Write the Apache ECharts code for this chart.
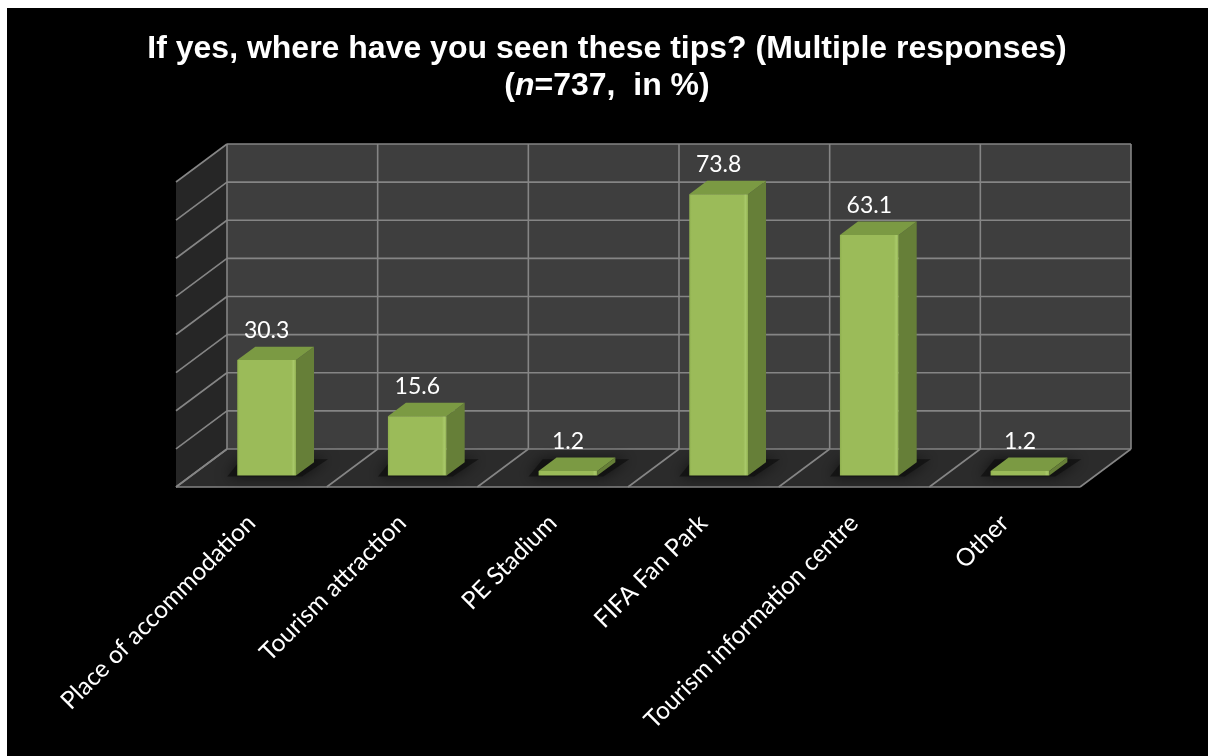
<!DOCTYPE html>
<html>
<head>
<meta charset="utf-8">
<script src="https://cdn.jsdelivr.net/npm/echarts@6/dist/echarts.min.js"></script>
<style>
html,body{margin:0;padding:0;background:#fff;}
#chart{width:1208px;height:756px;}
</style>
</head>
<body>
<div id="chart"></div>
<script>
const categories = ['Place of accommodation', 'Tourism attraction', 'PE Stadium', 'FIFA Fan Park', 'Tourism information centre', 'Other'];
const values = [30.3, 15.6, 1.2, 73.8, 63.1, 1.2];
const valueTicks = [0, 10, 20, 30, 40, 50, 60, 70, 80];

// layout / style constants (not data)
const DEPTH = [51, -38];          // front plane -> back wall offset in px
const BAR_FRONT = 0.30;           // fraction of depth where bar front face sits
const BAR_DEPTH = 0.353;          // fraction of depth occupied by bar
const BAR_WIDTH = 0.39;           // fraction of category band
const GRID_COLOR = '#858585';

const chart = echarts.init(document.getElementById('chart'), null, {renderer: 'canvas'});

function renderWalls(params, api) {
  const cs = params.coordSys;
  const gx = cs.x, gy = cs.y, gw = cs.width, gh = cs.height;
  const dx = DEPTH[0], dy = DEPTH[1];
  const children = [];
  const yb = api.coord([0, 0])[1];
  const yt = api.coord([0, valueTicks[valueTicks.length - 1]])[1];
  children.push({type: 'polygon', shape: {points: [[gx + dx, yt + dy], [gx + gw + dx, yt + dy], [gx + gw + dx, yb + dy], [gx + dx, yb + dy]]}, style: {fill: '#3e3e3e'}});
  children.push({type: 'polygon', shape: {points: [[gx, yt], [gx + dx, yt + dy], [gx + dx, yb + dy], [gx, yb]]}, style: {fill: '#262626'}});
  children.push({type: 'polygon', shape: {points: [[gx, yb], [gx + dx, yb + dy], [gx + gw + dx, yb + dy], [gx + gw, yb]]}, style: {fill: '#2b2b2b'}});
  const ls = {stroke: GRID_COLOR, lineWidth: 1.6};
  valueTicks.forEach(function (v) {
    const y = api.coord([0, v])[1];
    children.push({type: 'line', shape: {x1: gx + dx, y1: y + dy, x2: gx + gw + dx, y2: y + dy}, style: ls});
    children.push({type: 'line', shape: {x1: gx, y1: y, x2: gx + dx, y2: y + dy}, style: ls});
  });
  const band = api.size([1, 0])[0];
  for (let i = 0; i <= categories.length; i++) {
    const x = api.coord([0, 0])[0] - band / 2 + i * band;
    children.push({type: 'line', shape: {x1: x + dx, y1: yt + dy, x2: x + dx, y2: yb + dy}, style: ls});
    children.push({type: 'line', shape: {x1: x, y1: yb, x2: x + dx, y2: yb + dy}, style: ls});
  }
  children.push({type: 'line', shape: {x1: gx, y1: yb, x2: gx + gw, y2: yb}, style: ls});
  return {type: 'group', children: children};
}

function renderBar(params, api) {
  const idx = api.value(0), val = api.value(1);
  const top = api.coord([idx, val]);
  const base = api.coord([idx, 0]);
  const bw = api.size([1, 0])[0] * BAR_WIDTH;
  const fx = DEPTH[0] * BAR_FRONT, fy = DEPTH[1] * BAR_FRONT;
  const bx = DEPTH[0] * BAR_DEPTH, by = DEPTH[1] * BAR_DEPTH;
  const x0 = top[0] + fx - bw / 2, x1 = x0 + bw;
  const yT = top[1] + fy, yB = base[1] + fy;
  const children = [];
  children.push({type: 'polygon', shape: {points: [[x0 - 10, yB + 1], [x1 + 6, yB + 1], [x1 + bx + 14, yB + by - 3], [x0 + bx - 14, yB + by - 3]]},
    style: {fill: 'rgba(14,14,14,0.7)', shadowBlur: 14, shadowColor: 'rgba(0,0,0,0.85)'}});
  children.push({type: 'polygon', shape: {points: [[x1, yT], [x1 + bx, yT + by], [x1 + bx, yB + by], [x1, yB]]}, style: {fill: '#667f38'}});
  children.push({type: 'polygon', shape: {points: [[x0, yT], [x0 + bx, yT + by], [x1 + bx, yT + by], [x1, yT]]}, style: {fill: '#7b9a43'}});
  children.push({type: 'rect', shape: {x: x0, y: yT, width: bw, height: yB - yT},
    style: {fill: new echarts.graphic.LinearGradient(0, 0, 1, 0, [
      {offset: 0, color: '#8fb04f'}, {offset: 0.04, color: '#9bbb59'}, {offset: 0.92, color: '#9bbb59'},
      {offset: 0.96, color: '#a9c96a'}, {offset: 1, color: '#90b050'}])}});
  children.push({type: 'text', style: {text: String(val), x: top[0] + fx, y: yT + by - 5, align: 'center', verticalAlign: 'bottom',
    fill: '#ffffff', font: '23px Lato'}});
  return {type: 'group', children: children};
}

const option = {
  backgroundColor: '#ffffff',
  animation: false,
  graphic: [{type: 'rect', shape: {x: 7, y: 8, width: 1201, height: 748}, style: {fill: '#000000'}, z: -100, silent: true}],
  title: {
    text: 'If yes, where have you seen these tips? (Multiple responses)\n({i|n}=737,  in %)',
    left: 602, top: 26, textAlign: 'center',
    textStyle: {
      color: '#ffffff', fontFamily: 'Liberation Sans', fontWeight: 'bold', fontSize: 32, lineHeight: 37,
      rich: {i: {color: '#ffffff', fontFamily: 'Liberation Sans', fontWeight: 'bold', fontStyle: 'italic', fontSize: 32, lineHeight: 37}}
    }
  },
  grid: {left: 176, right: 128, top: 182, bottom: 269},
  xAxis: {
    type: 'category', data: categories,
    axisLine: {show: false}, axisTick: {show: false}, splitLine: {show: false},
    axisLabel: {rotate: 45, interval: 0, color: '#ffffff', fontFamily: 'Lato', fontSize: 24.5, margin: 32}
  },
  yAxis: {type: 'value', min: 0, max: 80, interval: 10, show: false},
  series: [
    {type: 'custom', name: 'walls', renderItem: renderWalls, data: [[0, 0]], clip: false, z: 1, silent: true},
    {type: 'custom', name: 'values', renderItem: renderBar, data: values.map(function (v, i) { return [i, v]; }), encode: {x: 0, y: 1}, clip: false, z: 2}
  ]
};
chart.setOption(option);
</script>
</body>
</html>
